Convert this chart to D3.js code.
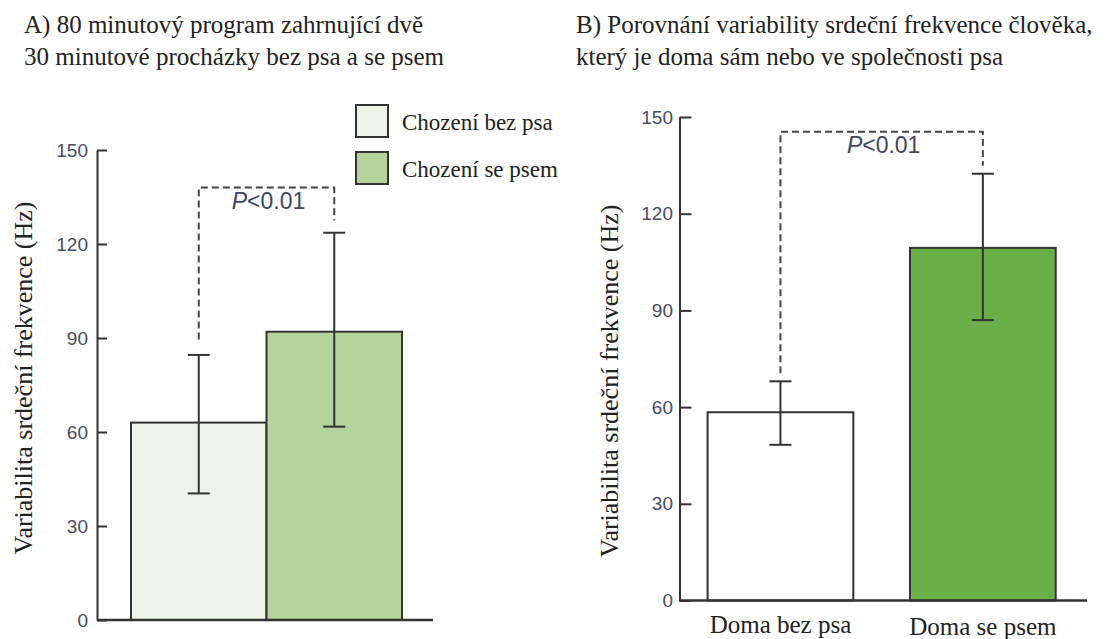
<!DOCTYPE html>
<html>
<head>
<meta charset="utf-8">
<script src="https://cdn.jsdelivr.net/npm/d3@7"></script>
<style>
  body { margin: 0; background: #fff; }
  svg { display: block; }
</style>
</head>
<body>
<svg id="chart" width="1109" height="639"></svg>
<script>
// panel A - walking with / without dog
const groupsA = ["Chození bez psa", "Chození se psem"]
const meansA = [63, 92]
const errLowA = [40.4, 61.7]
const errHighA = [84.6, 123.6]
const bracketA = [89.5, 138, 127.5] // left end, top, right end

// panel B - at home with / without dog
const groupsB = ["Doma bez psa", "Doma se psem"]
const meansB = [58.4, 109.4]
const errLowB = [48.3, 87.0]
const errHighB = [68.0, 132.4]
const bracketB = [70.5, 145.4, 134.9]

const yTicks = [0, 30, 60, 90, 120, 150]
const pLabel = "0.01"

const titleA = ["A) 80 minutový program zahrnující dvě", "30 minutové procházky bez psa a se psem"]
const titleB = ["B) Porovnání variability srdeční frekvence člověka,", "který je doma sám nebo ve společnosti psa"]
const yLabel = "Variabilita srdeční frekvence (Hz)"

const colorsA = d3.scaleOrdinal().domain(groupsA).range(["#eef5e8", "#b4d49c"])
const colorsB = d3.scaleOrdinal().domain(groupsB).range(["#ffffff", "#6aaf48"])

const serif = "'Liberation Serif', 'Times New Roman', Times, serif"
const sans = "'Liberation Sans', Arial, Helvetica, sans-serif"

const svg = d3.select("#chart")
const stroke = "#333"

// helper for the serif texts (titles, labels, legend)
const serifText = (sel, size) => sel
    .attr("font-family", serif)
    .attr("fill", "#222")
    .style("font-size", size + "px")

const drawPanel = (opt) => {
    const g = svg.append("g")

    const y = d3.scaleLinear().domain([0, 150]).range([opt.bottom, opt.top])
    const x = d3.scaleBand().domain(opt.groups).range(opt.barRange).paddingInner(opt.pad)

    // y axis, ticks pointing inwards
    const yAxis = g.append("g")
        .attr("transform", "translate(" + opt.left + ",0)")
        .call(d3.axisLeft(y).tickValues(yTicks).tickSize(-opt.tickLen).tickSizeOuter(0).tickPadding(opt.tickPad))
    yAxis.select(".domain").attr("stroke", stroke).attr("stroke-width", 2)
    yAxis.selectAll(".tick line").attr("stroke", stroke).attr("stroke-width", 2)
    yAxis.selectAll(".tick text")
        .attr("font-family", sans)
        .style("font-size", "19px")
        .attr("fill", "#464b62")

    // bars
    g.append("g")
        .selectAll("rect")
        .data(opt.groups)
        .join("rect")
        .attr("x", d => x(d))
        .attr("y", (d, i) => y(opt.means[i]))
        .attr("width", x.bandwidth())
        .attr("height", (d, i) => y(0) - y(opt.means[i]))
        .attr("fill", d => opt.colors(d))
        .attr("stroke", stroke)
        .attr("stroke-width", 2)

    // baseline
    g.append("line")
        .attr("x1", opt.left).attr("x2", opt.axisEnd)
        .attr("y1", y(0)).attr("y2", y(0))
        .attr("stroke", stroke).attr("stroke-width", 2.5)

    // error bars
    const cx = d => x(d) + x.bandwidth() / 2
    const err = g.append("g").attr("stroke", stroke).attr("stroke-width", 2)
    err.selectAll(".stem").data(opt.groups).join("line")
        .attr("x1", cx).attr("x2", cx)
        .attr("y1", (d, i) => y(opt.lo[i])).attr("y2", (d, i) => y(opt.hi[i]))
    err.selectAll(".capHi").data(opt.groups).join("line")
        .attr("x1", d => cx(d) - 11).attr("x2", d => cx(d) + 11)
        .attr("y1", (d, i) => y(opt.hi[i])).attr("y2", (d, i) => y(opt.hi[i]))
    err.selectAll(".capLo").data(opt.groups).join("line")
        .attr("x1", d => cx(d) - 11).attr("x2", d => cx(d) + 11)
        .attr("y1", (d, i) => y(opt.lo[i])).attr("y2", (d, i) => y(opt.lo[i]))

    // significance bracket
    const b = opt.bracket
    const x0 = cx(opt.groups[0]), x1 = cx(opt.groups[1])
    g.append("path")
        .attr("d", d3.line()([[x0, y(b[0])], [x0, y(b[1])], [x1, y(b[1])], [x1, y(b[2])]]))
        .attr("fill", "none")
        .attr("stroke", "#444")
        .attr("stroke-width", 2)
        .attr("stroke-dasharray", "7,4")

    const p = g.append("text")
        .attr("x", (x0 + x1) / 2 + 2)
        .attr("y", y(b[1]) + 21)
        .attr("text-anchor", "middle")
        .attr("font-family", sans)
        .style("font-size", "23px")
        .style("fill", "#3f4564")
    p.append("tspan").style("font-style", "italic").text("P")
    p.append("tspan").text("<" + pLabel)

    // y label
    g.append("text")
        .call(serifText, 26)
        .attr("transform", "translate(" + opt.yLabelX + "," + opt.yLabelY + ") rotate(-90)")
        .attr("text-anchor", "middle")
        .text(yLabel)

    // title
    g.append("g").selectAll("text")
        .data(opt.title)
        .join("text")
        .call(serifText, 25)
        .attr("x", opt.titleX)
        .attr("y", (d, i) => 33 + i * 32)
        .text(d => d)

    return { g, x, y, cx }
}

const panelA = drawPanel({
    groups: groupsA, means: meansA, lo: errLowA, hi: errHighA, bracket: bracketA, colors: colorsA,
    top: 150, bottom: 620, left: 97, axisEnd: 433, barRange: [131, 402], pad: 0,
    tickLen: 10, tickPad: 9, yLabelX: 32, yLabelY: 378, title: titleA, titleX: 24
})

const panelB = drawPanel({
    groups: groupsB, means: meansB, lo: errLowB, hi: errHighB, bracket: bracketB, colors: colorsB,
    top: 117, bottom: 600.5, left: 679.5, axisEnd: 1087, barRange: [707.6, 1055.7], pad: 0.28,
    tickLen: 12, tickPad: 6.5, yLabelX: 618, yLabelY: 381, title: titleB, titleX: 576
})

// category labels under panel B
panelB.g.append("g").selectAll("text")
    .data(groupsB)
    .join("text")
    .call(serifText, 25)
    .attr("x", d => panelB.cx(d))
    .attr("y", (d, i) => panelB.y(0) + 32 + i * 2)
    .attr("text-anchor", "middle")
    .text(d => d)

// legend for panel A
const legend = svg.append("g").attr("transform", "translate(356,105)")
const item = legend.selectAll("g")
    .data(groupsA)
    .join("g")
    .attr("transform", (d, i) => "translate(0," + i * 47 + ")")
item.append("rect")
    .attr("width", 32).attr("height", 32)
    .attr("fill", d => colorsA(d))
    .attr("stroke", stroke).attr("stroke-width", 2)
item.append("text")
    .call(serifText, 23)
    .attr("x", 46).attr("y", 25)
    .text(d => d)
</script>
</body>
</html>
